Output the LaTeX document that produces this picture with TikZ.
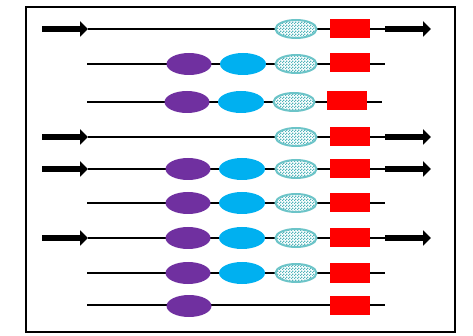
\documentclass[tikz,border=0pt]{standalone}
\usetikzlibrary{arrows.meta,shapes.geometric,patterns}
\definecolor{purp}{RGB}{112,48,160}
\definecolor{skyb}{RGB}{0,176,240}
\definecolor{teal}{RGB}{108,196,200}
\definecolor{tealdk}{RGB}{80,180,186}
% fine checker for the hatched oval
\pgfdeclarepatternformonly{finechecker}{\pgfqpoint{0pt}{0pt}}{\pgfqpoint{3pt}{3pt}}{\pgfqpoint{3pt}{3pt}}{%
  \pgfpathrectangle{\pgfqpoint{0pt}{0pt}}{\pgfqpoint{1.5pt}{1.5pt}}%
  \pgfpathrectangle{\pgfqpoint{1.5pt}{1.5pt}}{\pgfqpoint{1.5pt}{1.5pt}}%
  \pgfusepath{fill}}
\tikzset{
  backbone/.style={line width=1.6pt},
  fatarrow/.style={line width=6pt,-{Triangle[length=8pt,width=15pt]}},
  pbox/.style={ellipse,fill=purp,minimum width=45pt,minimum height=22pt,inner sep=0pt},
  bbox/.style={ellipse,fill=skyb,minimum width=46pt,minimum height=22pt,inner sep=0pt},
  cbox/.style={ellipse,draw=teal,line width=2pt,preaction={fill=white},pattern=finechecker,pattern color=tealdk,minimum width=41pt,minimum height=18pt,inner sep=0pt},
  rbox/.style={rectangle,fill=red,minimum width=40pt,minimum height=19pt,inner sep=0pt}
}
\begin{document}
\begin{tikzpicture}[x=1pt,y=-1pt]
  \useasboundingbox (0,0) rectangle (473,336);
  \draw[line width=2pt] (26,7) rectangle (455,332);
  % row 1
  \coordinate (a1) at (42,29);  \coordinate (l1) at (88,29);
  \coordinate (r1e) at (385,29); \coordinate (z1) at (431,29);
  \draw[backbone] (l1) -- (r1e);
  \draw[fatarrow] (a1) -- (l1);
  \draw[fatarrow] (r1e) -- (z1);
  \node[cbox] (c1) at (296,29) {};
  \node[rbox] (r1) at (350,29) {};
  % row 2
  \coordinate (l2) at (87,64); \coordinate (r2e) at (385,64);
  \draw[backbone] (l2) -- (r2e);
  \node[pbox] (p2) at (189,64) {};
  \node[bbox] (b2) at (243,64) {};
  \node[cbox] (c2) at (296,64) {};
  \node[rbox] (r2) at (350,63) {};
  % row 3
  \coordinate (l3) at (87,102); \coordinate (r3e) at (382,102);
  \draw[backbone] (l3) -- (r3e);
  \node[pbox] (p3) at (187,102) {};
  \node[bbox] (b3) at (241,102) {};
  \node[cbox] (c3) at (294,102) {};
  \node[rbox] (r3) at (347,101) {};
  % row 4
  \coordinate (a4) at (42,137);  \coordinate (l4) at (88,137);
  \coordinate (r4e) at (385,137); \coordinate (z4) at (431,137);
  \draw[backbone] (l4) -- (r4e);
  \draw[fatarrow] (a4) -- (l4);
  \draw[fatarrow] (r4e) -- (z4);
  \node[cbox] (c4) at (296,137) {};
  \node[rbox] (r4) at (350,137) {};
  % row 5
  \coordinate (a5) at (42,169);  \coordinate (l5) at (88,169);
  \coordinate (r5e) at (385,169); \coordinate (z5) at (431,169);
  \draw[backbone] (l5) -- (r5e);
  \draw[fatarrow] (a5) -- (l5);
  \draw[fatarrow] (r5e) -- (z5);
  \node[pbox] (p5) at (188,169) {};
  \node[bbox] (b5) at (242,169) {};
  \node[cbox] (c5) at (296,169) {};
  \node[rbox] (r5) at (350,169) {};
  % row 6
  \coordinate (l6) at (87,203); \coordinate (r6e) at (385,203);
  \draw[backbone] (l6) -- (r6e);
  \node[pbox] (p6) at (188,203) {};
  \node[bbox] (b6) at (242,203) {};
  \node[cbox] (c6) at (296,203) {};
  \node[rbox] (r6) at (350,203) {};
  % row 7
  \coordinate (a7) at (42,238);  \coordinate (l7) at (88,238);
  \coordinate (r7e) at (385,238); \coordinate (z7) at (431,238);
  \draw[backbone] (l7) -- (r7e);
  \draw[fatarrow] (a7) -- (l7);
  \draw[fatarrow] (r7e) -- (z7);
  \node[pbox] (p7) at (188,238) {};
  \node[bbox] (b7) at (242,238) {};
  \node[cbox] (c7) at (296,238) {};
  \node[rbox] (r7) at (350,238) {};
  % row 8
  \coordinate (l8) at (87,273); \coordinate (r8e) at (385,273);
  \draw[backbone] (l8) -- (r8e);
  \node[pbox] (p8) at (188,273) {};
  \node[bbox] (b8) at (242,273) {};
  \node[cbox] (c8) at (296,273) {};
  \node[rbox] (r8) at (350,273) {};
  % row 9
  \coordinate (l9) at (87,305); \coordinate (r9e) at (385,305);
  \draw[backbone] (l9) -- (r9e);
  \node[pbox] (p9) at (189,306) {};
  \node[rbox] (r9) at (350,305) {};
\end{tikzpicture}
\end{document}
